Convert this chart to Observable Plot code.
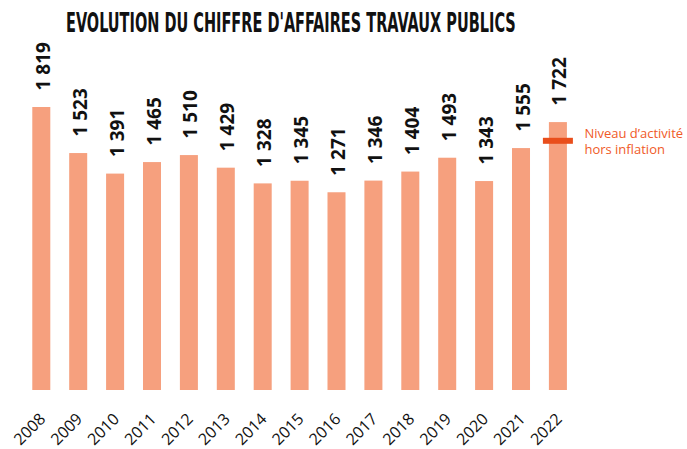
<!DOCTYPE html>
<html>
<head>
<meta charset="utf-8">
<script src="https://cdn.jsdelivr.net/npm/d3@7"></script>
<script src="https://cdn.jsdelivr.net/npm/@observablehq/plot@0.6"></script>
<style>
  body { margin: 0; background: #ffffff; }
  #title { display: block; }
  #chart svg { display: block; }
</style>
</head>
<body>
<svg id="title" width="687" height="40"></svg>
<div id="chart"></div>
<script>
const titleText = "EVOLUTION DU CHIFFRE D'AFFAIRES TRAVAUX PUBLICS";
const years = ["2008","2009","2010","2011","2012","2013","2014","2015","2016","2017","2018","2019","2020","2021","2022"];
const revenue = [1819, 1523, 1391, 1465, 1510, 1429, 1328, 1345, 1271, 1346, 1404, 1493, 1343, 1555, 1722];
const valueLabels = ["1 819","1 523","1 391","1 465","1 510","1 429","1 328","1 345","1 271","1 346","1 404","1 493","1 343","1 555","1 722"];
const legendYear = "2022";
const legendValue = 1605;
const legendText = "Niveau d’activité\nhors inflation";

const barColor = "#f6a07e";
const legendLine = "#e94e1b";
const legendColor = "#f05a28";

// Title (condensed to the reference width with a horizontal scale)
const titleSvg = document.getElementById("title");
const t = document.createElementNS("http://www.w3.org/2000/svg", "text");
t.setAttribute("x", 0);
t.setAttribute("y", 0);
t.setAttribute("font-family", "'Liberation Sans Narrow', 'DejaVu Sans Condensed', sans-serif");
t.setAttribute("font-weight", "bold");
t.setAttribute("font-size", 26);
t.setAttribute("fill", "#111");
t.textContent = titleText;
titleSvg.appendChild(t);
const natural = t.getComputedTextLength() || 450;
t.setAttribute("transform", `translate(66,32) scale(${450 / natural},1)`);

const data = years.map((year, i) => ({year, value: revenue[i], label: valueLabels[i]}));
const legendData = [{year: legendYear, value: legendValue, label: legendText}];

const chart = Plot.plot({
  width: 687,
  height: 409,
  marginLeft: 13.4,
  marginRight: 101.2,
  marginTop: 67,
  marginBottom: 59,
  x: {domain: years, padding: 0.512, round: false, label: null},
  y: {domain: [0, 1819], axis: null},
  style: {fontFamily: "'Open Sans', sans-serif", background: "#ffffff", color: "#111"},
  marks: [
    Plot.barY(data, {x: "year", y: "value", fill: barColor}),
    Plot.text(data, {x: "year", y: "value", text: "label", rotate: -90, textAnchor: "start",
      dy: -17, dx: 2, fontSize: 19, fontWeight: "bold", fill: "#111"}),
    Plot.tickY(legendData, {x: "year", y: "value", stroke: legendLine, strokeWidth: 6,
      insetLeft: -6, insetRight: -6}),
    Plot.text(legendData, {x: "year", y: "value", text: "label", textAnchor: "start",
      dx: 26, fill: legendColor, fontSize: 13, lineHeight: 1.23}),
    Plot.axisX({tickRotate: -45, tickSize: 0, tickPadding: 26, dx: 1, fontSize: 16, fill: "#111", label: null})
  ]
});
document.getElementById("chart").appendChild(chart);
</script>
</body>
</html>
